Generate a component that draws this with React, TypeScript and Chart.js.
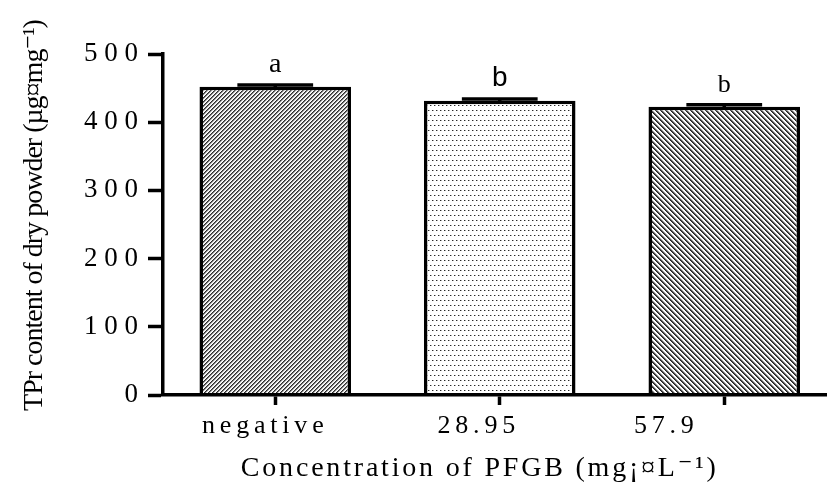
import React, { useEffect, useRef } from 'react';
import { Chart, registerables } from 'chart.js';

Chart.register(...registerables);

// ---- data ----
const categories = ['negative', '28.95', '57.9'];
const values = [452, 431.5, 422.5];
const errors = [2.5, 2.5, 3];
const letters = ['a', 'b', 'b'];
const yMin = 0;
const yMax = 500;
const yStep = 100;
const xTitle = 'Concentration of PFGB (mg\u00A1\u00A4L\u207B\u00B9)';
const yTitle = 'TPr content of dry powder (\u00B5g\u00A4mg\u207B\u00B9)';

// ---- styles ----
const SERIF = "'Liberation Serif', 'Times New Roman', 'DejaVu Serif', serif";
const SANS = "'Liberation Sans', Arial, 'DejaVu Sans', sans-serif";
const letterFonts = [SERIF, SANS, SERIF];
const letterSizes = [28, 28, 26];
const labelShiftPx = [-10, -21, -58]; // labels sit left of their tick in the original

const spaced = (s: string) => s.split('').join(' ');

function makePattern(kind: 'fwd' | 'dots' | 'back'): CanvasPattern | string {
  const w = kind === 'fwd' ? 4 : kind === 'back' ? 5 : 8;
  const h = kind === 'fwd' ? 4 : kind === 'back' ? 5 : 10;
  const c = document.createElement('canvas');
  c.width = w;
  c.height = h;
  const ctx = c.getContext('2d');
  if (!ctx) return '#888';
  const img = ctx.createImageData(w, h);
  for (let y = 0; y < h; y++) {
    for (let x = 0; x < w; x++) {
      let v = 255;
      if (kind === 'fwd') {
        v = [45, 120, 230, 255][(x + y) % 4];
      } else if (kind === 'back') {
        v = [35, 80, 175, 255, 255][(((x - y) % 5) + 5) % 5];
      } else {
        if ((x % 4 === 0 && y === 0) || (x % 4 === 2 && y === 5)) v = 40;
        else if ((x % 4 === 1 && y === 0) || (x % 4 === 3 && y === 5)) v = 170;
      }
      const k = (y * w + x) * 4;
      img.data[k] = v;
      img.data[k + 1] = v;
      img.data[k + 2] = v;
      img.data[k + 3] = 255;
    }
  }
  ctx.putImageData(img, 0, 0);
  return ctx.createPattern(c, 'repeat') || '#888';
}

const errorPlugin = {
  id: 'errorBarsAndLetters',
  afterDatasetsDraw(chart: any) {
    const ctx = chart.ctx as CanvasRenderingContext2D;
    const meta = chart.getDatasetMeta(0);
    const ys = chart.scales.y;
    ctx.save();
    meta.data.forEach((bar: any, i: number) => {
      const top = ys.getPixelForValue(values[i] + errors[i]);
      const low = ys.getPixelForValue(values[i] - errors[i]);
      const half = bar.width / 4;
      ctx.strokeStyle = '#000';
      ctx.lineWidth = 3.5;
      ctx.lineCap = 'butt';
      ctx.beginPath();
      ctx.moveTo(bar.x, low);
      ctx.lineTo(bar.x, top);
      ctx.stroke();
      ctx.beginPath();
      ctx.moveTo(bar.x - half, top);
      ctx.lineTo(bar.x + half, top);
      ctx.stroke();
      ctx.fillStyle = '#000';
      ctx.font = `${letterSizes[i]}px ${letterFonts[i]}`;
      ctx.textAlign = 'center';
      ctx.textBaseline = 'alphabetic';
      ctx.fillText(letters[i], bar.x, top - 13);
    });
    ctx.restore();
  },
};

function withSpacing(scale: any, method: string, spacing: string, dx: number, dy: number) {
  const orig = scale[method];
  if (typeof orig !== 'function') return;
  scale[method] = function (...args: any[]) {
    const ctx = this.ctx as any;
    ctx.save();
    ctx.letterSpacing = spacing;
    ctx.translate(dx, dy);
    orig.apply(this, args);
    ctx.restore();
  };
}

const textTweaksPlugin = {
  id: 'textTweaks',
  beforeDraw(chart: any) {
    const sx = chart.scales.x;
    if (sx && !sx.__patched) {
      withSpacing(sx, 'drawTitle', '2.8px', -20, 0);
      withSpacing(sx, 'drawLabels', '4.8px', 0, 0);
      const origCompute = sx._computeLabelItems;
      if (typeof origCompute === 'function') {
        sx._computeLabelItems = function (...args: any[]) {
          const items = origCompute.apply(this, args);
          items.forEach((it: any, i: number) => {
            const t = it.options && it.options.translation;
            if (t) it.options.translation = [t[0] + (labelShiftPx[i] || 0), t[1]];
          });
          return items;
        };
        sx._labelItems = null;
      }
      sx.__patched = true;
    }
    const sy = chart.scales.y;
    if (sy && !sy.__patched) {
      withSpacing(sy, 'drawTitle', '-1px', 0, -9);
      sy.__patched = true;
    }
  },
};

export default function App() {
  const ref = useRef<HTMLCanvasElement | null>(null);

  useEffect(() => {
    if (!ref.current) return;
    const patterns = [makePattern('fwd'), makePattern('dots'), makePattern('back')];
    const chart = new Chart(ref.current, {
      type: 'bar',
      data: {
        labels: categories,
        datasets: [
          {
            data: values,
            backgroundColor: patterns as any,
            borderColor: '#000',
            borderWidth: 3.5,
            borderSkipped: 'start',
            barPercentage: 0.675,
            categoryPercentage: 1,
          },
        ],
      },
      options: {
        responsive: false,
        animation: false,
        devicePixelRatio: 1,
        layout: { padding: { top: 54, right: 13.5, bottom: 0, left: 0 } },
        plugins: { legend: { display: false }, tooltip: { enabled: false } },
        scales: {
          x: {
            type: 'category',
            offset: true,
            afterFit: (s: any) => {
              s.height = 89;
            },
            grid: {
              display: true,
              drawOnChartArea: false,
              drawTicks: true,
              tickLength: 10,
              tickWidth: 3.5,
              tickColor: '#000',
              offset: false,
            },
            border: { display: true, color: '#000', width: 3.5, z: 1 },
            ticks: {
              color: '#000',
              font: { family: SERIF, size: 26, lineHeight: 1.2 },
              padding: 6,
              maxRotation: 0,
              autoSkip: false,
              callback: (_v: any, i: number) => categories[i],
            },
            title: {
              display: true,
              text: xTitle,
              color: '#000',
              font: { family: SERIF, size: 28, lineHeight: 1.1 },
              padding: { top: 0, bottom: 0 },
            },
          },
          y: {
            min: yMin,
            max: yMax,
            afterFit: (s: any) => {
              s.width = 163;
            },
            grid: {
              display: true,
              drawOnChartArea: false,
              drawTicks: true,
              tickLength: 15,
              tickWidth: 3.5,
              tickColor: '#000',
            },
            border: { display: true, color: '#000', width: 3.5, z: 1 },
            ticks: {
              stepSize: yStep,
              color: '#000',
              font: { family: SERIF, size: 27, lineHeight: 1.2 },
              padding: 10,
              callback: (v: any) => spaced(String(v)),
            },
            title: {
              display: true,
              text: yTitle,
              color: '#000',
              font: { family: SERIF, size: 28, lineHeight: 1.2 },
              padding: { top: 18, bottom: 0 },
            },
          },
        },
      },
      plugins: [errorPlugin, textTweaksPlugin],
    });
    return () => chart.destroy();
  }, []);

  return (
    <div
      style={{
        position: 'absolute',
        left: 0,
        top: 0,
        width: 827,
        height: 484,
        overflow: 'hidden',
        background: '#fff',
      }}
    >
      <canvas ref={ref} width={850} height={484} style={{ display: 'block' }} />
    </div>
  );
}
